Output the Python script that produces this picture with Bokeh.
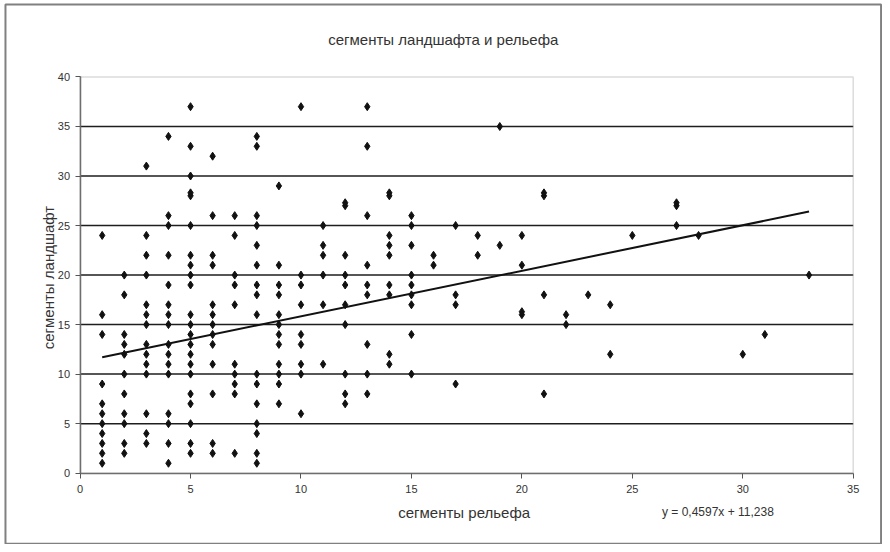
import math
from bokeh.plotting import figure
from bokeh.models import Range1d, FixedTicker, Label, BoxAnnotation
from bokeh.embed import file_html
from bokeh.resources import INLINE

title_text = "сегменты ландшафта и рельефа"
x_label = "сегменты рельефа"
y_label = "сегменты ландшафт"
equation_text = "y = 0,4597x + 11,238"
slope = 0.4597
intercept = 11.238
x_ticks = [0, 5, 10, 15, 20, 25, 30, 35]
y_ticks = [0, 5, 10, 15, 20, 25, 30, 35, 40]
grid_ticks = [5, 10, 15, 20, 25, 30, 35]
x_axis_span = (0, 35)
y_axis_span = (0, 40)

relief = [
    1, 1, 1, 1, 1, 1, 1, 1, 1, 1, 1,
    2, 2, 2, 2, 2, 2, 2, 2, 2, 2, 2,
    3, 3, 3, 3, 3, 3, 3, 3, 3, 3, 3, 3, 3, 3,
    4, 4, 4, 4, 4, 4, 4, 4, 4, 4, 4, 4, 4, 4, 4, 4,
    5, 5, 5, 5, 5, 5, 5, 5, 5, 5, 5, 5, 5, 5, 5, 5, 5, 5, 5, 5, 5, 5,
    6, 6, 6, 6, 6, 6, 6, 6, 6, 6, 6, 6, 6,
    7, 7, 7, 7, 7, 7, 7, 7, 7, 7,
    8, 8, 8, 8, 8, 8, 8, 8, 8, 8, 8, 8, 8, 8, 8, 8,
    9, 9, 9, 9, 9, 9, 9, 9, 9, 9, 9, 9,
    10, 10, 10, 10, 10, 10, 10, 10, 10,
    11, 11, 11, 11, 11, 11,
    12, 12, 12, 12, 12, 12, 12, 12, 12, 12,
    13, 13, 13, 13, 13, 13, 13, 13, 13,
    14, 14, 14, 14, 14, 14, 14, 14, 14,
    15, 15, 15, 15, 15, 15, 15, 15, 15,
    16, 16,
    17, 17, 17, 17,
    18, 18,
    19, 19,
    20, 20, 20, 20,
    21, 21, 21, 21,
    22, 22,
    23,
    24, 24,
    25,
    27, 27, 27,
    28,
    30,
    31,
    33,
]

landscape = [
    24, 16, 14, 9, 7, 6, 5, 4, 3, 2, 1,
    20, 18, 14, 13, 12, 10, 8, 6, 5, 3, 2,
    31, 24, 22, 20, 17, 16, 15, 13, 12, 11, 10, 6, 4, 3,
    34, 26, 25, 22, 19, 17, 16, 15, 13, 12, 11, 10, 6, 5, 3, 1,
    37, 33, 30, 28, 28.3, 25, 22, 21, 20, 19, 16, 15, 14, 13, 12, 11, 10, 8, 7, 5, 3, 2,
    32, 26, 22, 21, 17, 16, 15, 14, 13, 11, 8, 3, 2,
    26, 24, 20, 19, 17, 11, 10, 9, 8, 2,
    34, 33, 26, 25, 23, 21, 19, 18, 16, 10, 9, 7, 5, 4, 2, 1,
    29, 21, 19, 18, 16, 15, 14, 13, 11, 10, 9, 7,
    37, 20, 19, 17, 14, 13, 11, 10, 6,
    25, 23, 22, 20, 17, 11,
    27, 27.3, 22, 20, 19, 17, 15, 10, 8, 7,
    37, 33, 26, 21, 19, 18, 13, 10, 8,
    28, 28.3, 24, 23, 22, 19, 18, 12, 11,
    26, 25, 23, 20, 19, 18, 17, 14, 10,
    22, 21,
    25, 18, 17, 9,
    24, 22,
    35, 23,
    24, 21, 16, 16.3,
    28, 28.3, 18, 8,
    16, 15,
    18,
    17, 12,
    24,
    27, 27.3, 25,
    24,
    12,
    14,
    20,
]

FONT = "Liberation Sans"
TXT = "#333333"

# canvas fills the window from the page margin; layout positions are given in
# reference-picture pixels and scaled slightly to the canvas
W, H = 882, 544
SX, SY = 0.995, 0.993
PLOT_LEFT, PLOT_RIGHT = 80 * SX, 857 * SX
PLOT_TOP, PLOT_BOTTOM = 77 * SY, 476 * SY
px_per_x = (PLOT_RIGHT - PLOT_LEFT) / (x_axis_span[1] - x_axis_span[0])
px_per_y = (PLOT_BOTTOM - PLOT_TOP) / (y_axis_span[1] - y_axis_span[0])
x_start = x_axis_span[0] - PLOT_LEFT / px_per_x
x_end = x_axis_span[1] + (W - PLOT_RIGHT) / px_per_x
y_start = y_axis_span[0] - (H - PLOT_BOTTOM) / px_per_y
y_end = y_axis_span[1] + PLOT_TOP / px_per_y


def sx(px):
    return x_axis_span[0] + (px * SX - PLOT_LEFT) / px_per_x


def sy(py):
    return y_axis_span[0] + (PLOT_BOTTOM - py * SY) / px_per_y


p = figure(width=W, height=H, output_backend="svg", toolbar_location=None,
           x_range=Range1d(x_start, x_end), y_range=Range1d(y_start, y_end),
           min_border=0)
p.background_fill_color = "white"
p.border_fill_color = "white"
p.outline_line_color = None
p.xgrid.visible = False
p.ygrid.visible = False

# outer chart frame
p.quad(left=sx(5), right=sx(885), bottom=sy(547), top=sy(4),
       fill_color=None, line_color="#808080", line_width=2, level="underlay")

# horizontal grid lines across the plot area
p.segment(x0=x_axis_span[0], x1=x_axis_span[1], y0=grid_ticks, y1=grid_ticks,
          line_color="#1e1e1e", line_width=1.5, level="underlay")

# plot area border
p.add_layout(BoxAnnotation(left=x_axis_span[0], right=x_axis_span[1],
                           bottom=y_axis_span[0], top=y_axis_span[1],
                           fill_color=None, line_color="#8a8a8a",
                           line_width=1.5, level="underlay"))

for ax in (p.xaxis[0], p.yaxis[0]):
    ax.fixed_location = 0
    ax.axis_line_color = "#6e6e6e"
    ax.axis_line_width = 1.5
    ax.major_tick_line_color = "#555555"
    ax.major_tick_out = 5
    ax.major_tick_in = 0
    ax.minor_tick_line_color = None
    ax.major_label_text_font = FONT
    ax.major_label_text_font_size = "11px"
    ax.major_label_text_color = TXT

p.xaxis.major_label_standoff = 7
p.yaxis.major_label_standoff = 5
p.xaxis.ticker = FixedTicker(ticks=x_ticks)
p.yaxis.ticker = FixedTicker(ticks=y_ticks)
p.xaxis.bounds = x_axis_span
p.yaxis.bounds = y_axis_span

p.scatter(relief, landscape, marker="diamond", size=8,
          fill_color="#111111", line_color="#111111", line_width=1)

x0, x1 = min(relief), max(relief)
p.line([x0, x1], [slope * x0 + intercept, slope * x1 + intercept],
       line_color="#111111", line_width=2)


def add_text(px, py, text, size="15px", angle=0.0):
    p.add_layout(Label(x=sx(px), y=sy(py), text=text, text_align="center",
                       text_baseline="middle", text_font=FONT,
                       text_font_size=size, text_color=TXT, angle=angle))


add_text(445, 39, title_text)
add_text(466, 516, x_label)
add_text(721, 515, equation_text, size="12px")
add_text(48, 279, y_label, angle=math.pi / 2)

open("out.html", "w").write(file_html(p, INLINE))
